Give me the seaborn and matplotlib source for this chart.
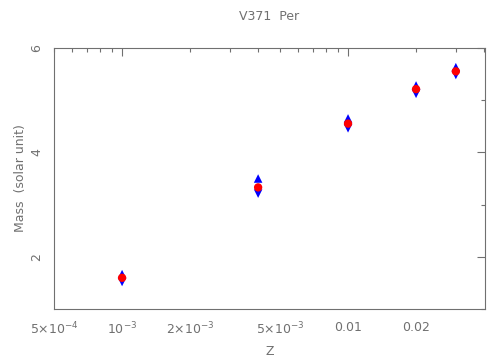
import numpy as np
import pandas as pd
import matplotlib
matplotlib.use('Agg')
import matplotlib.pyplot as plt
import matplotlib.ticker as mticker
import seaborn as sns

# -------------------------------
# Data
# -------------------------------
z = [0.001, 0.004, 0.01, 0.02, 0.03]
mass = [1.60, 3.33, 4.55, 5.21, 5.55]
mass_upper = [1.67, 3.50, 4.65, 5.28, 5.63]
mass_lower = [1.52, 3.21, 4.46, 5.12, 5.48]

tick_pos = [5e-4, 1e-3, 2e-3, 5e-3, 0.01, 0.02]
tick_lab = [r'$5{\times}10^{-4}$', r'$10^{-3}$', r'$2{\times}10^{-3}$',
            r'$5{\times}10^{-3}$', '0.01', '0.02']

df = pd.DataFrame({'Z': z, 'mass': mass, 'upper': mass_upper, 'lower': mass_lower})

sns.set_style("white")
plt.rcParams['font.family'] = ['DejaVu Sans']
grey = '#707070'
fs = 9

fig = plt.figure(figsize=(4.87, 3.57), dpi=100)
ax = fig.add_axes([0.111, 0.134, 0.885, 0.732])

sns.scatterplot(data=df, x='Z', y='upper', marker='^', color='blue', s=38,
                edgecolor='none', ax=ax)
sns.scatterplot(data=df, x='Z', y='lower', marker='v', color='blue', s=38,
                edgecolor='none', ax=ax)
sns.scatterplot(data=df, x='Z', y='mass', marker='o', color='red', s=36,
                edgecolor='none', ax=ax)

ax.set_xscale('log')
ax.set_xlim(5e-4, 0.0404)
ax.set_ylim(1, 6)

# x ticks: decades long, the rest short; some of the short ones carry labels
ax.xaxis.set_major_locator(mticker.FixedLocator([1e-3, 1e-2]))
ax.xaxis.set_minor_locator(mticker.LogLocator(base=10, subs=np.arange(2, 10)))
ax.xaxis.set_major_formatter(mticker.NullFormatter())
ax.xaxis.set_minor_formatter(mticker.NullFormatter())
for p, lab in zip(tick_pos, tick_lab):
    ax.text(p, -0.045, lab, transform=ax.get_xaxis_transform(),
            ha='center', va='top', fontsize=fs, color=grey)

ax.yaxis.set_major_locator(mticker.FixedLocator([2, 4, 6]))
ax.yaxis.set_minor_locator(mticker.FixedLocator([1, 3, 5]))
ax.set_yticklabels(['2', '4', '6'], rotation=90, va='center', fontsize=fs, color=grey)

ax.tick_params(which='both', direction='in', top=True, right=True,
               color=grey, width=0.8)
ax.tick_params(which='major', length=6)
ax.tick_params(which='minor', length=3)
ax.tick_params(axis='y', pad=8)

for s in ax.spines.values():
    s.set_color(grey)
    s.set_linewidth(0.8)

ax.set_xlabel('Z', fontsize=fs, color=grey, labelpad=22)
ax.set_ylabel('Mass  (solar unit)', fontsize=fs, color=grey, labelpad=2)
ax.set_title('V371  Per', fontsize=fs, color=grey, pad=20)

fig.savefig('out.png', dpi=100)
